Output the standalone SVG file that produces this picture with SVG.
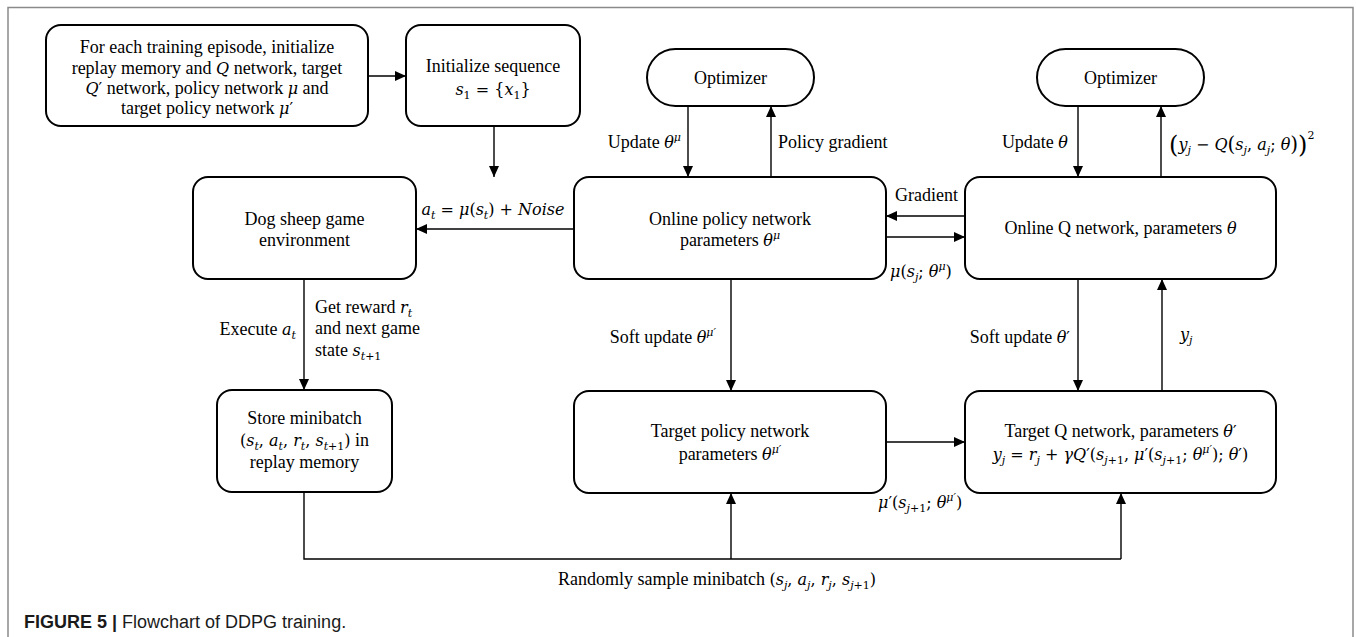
<svg xmlns="http://www.w3.org/2000/svg" width="1356" height="637" viewBox="0 0 1356 637">
  <defs>
    <marker id="arr" markerUnits="userSpaceOnUse" markerWidth="11" markerHeight="10" refX="11" refY="5" orient="auto">
      <path d="M0,0 L11,5 L0,10 z" fill="#000"/>
    </marker>
    <style>
      .box { fill: #fff; stroke: #000; stroke-width: 2; }
      .edge { fill: none; stroke: #000; stroke-width: 1.4; }
      .t { font-family: "Liberation Serif", "Times New Roman", serif; font-size: 18px; fill: #000; }
      .c { text-anchor: middle; }
      .e { text-anchor: end; }
      .m { font-family: "DejaVu Serif", "Liberation Serif", serif; font-size: 16px; }
      .i { font-style: italic; }
      .s { font-size: 11px; }
      .cap { font-family: "Liberation Sans", Arial, sans-serif; font-size: 18px; fill: #1a1a1a; }
    </style>
  </defs>

  <rect width="1356" height="637" fill="#fff"/>
  <!-- outer figure frame -->
  <path d="M8,640 V7.5 H1353 V640" fill="none" stroke="#8a8a8a" stroke-width="1.5"/>

  <!-- connectors -->
  <g id="connectors">
    <path class="edge" d="M368,76 H406" marker-end="url(#arr)"/>
    <path class="edge" d="M494,126 V177" marker-end="url(#arr)"/>
    <path class="edge" d="M574,229 H416" marker-end="url(#arr)"/>
    <path class="edge" d="M304,279 V390" marker-end="url(#arr)"/>
    <path class="edge" d="M688,106 V177" marker-end="url(#arr)"/>
    <path class="edge" d="M771,177 V106" marker-end="url(#arr)"/>
    <path class="edge" d="M1078,106 V177" marker-end="url(#arr)"/>
    <path class="edge" d="M1161,177 V106" marker-end="url(#arr)"/>
    <path class="edge" d="M965,216 H886" marker-end="url(#arr)"/>
    <path class="edge" d="M886,237 H965" marker-end="url(#arr)"/>
    <path class="edge" d="M731,279 V391" marker-end="url(#arr)"/>
    <path class="edge" d="M1078,279 V391" marker-end="url(#arr)"/>
    <path class="edge" d="M1162,391 V279" marker-end="url(#arr)"/>
    <path class="edge" d="M886,442 H965" marker-end="url(#arr)"/>
    <path class="edge" d="M304,492 V559 H1121"/>
    <path class="edge" d="M731,559 V493" marker-end="url(#arr)"/>
    <path class="edge" d="M1121,559 V493" marker-end="url(#arr)"/>
  </g>

  <!-- connector labels -->
  <g id="labels" class="t">
    <text class="e" x="681" y="148">Update <tspan class="m i">θ</tspan><tspan class="m s i" dy="-7">μ</tspan></text>
    <text x="778" y="148">Policy gradient</text>
    <text class="e" x="1068" y="148">Update <tspan class="m i">θ</tspan></text>
    <text x="1169" y="150"><tspan class="m"><tspan font-size="24" dy="3">(</tspan><tspan class="i" dy="-3">y</tspan><tspan class="s i" dy="4">j</tspan><tspan dy="-4"> − </tspan><tspan class="i">Q</tspan><tspan font-size="20" dy="1">(</tspan><tspan class="i" dy="-1">s</tspan><tspan class="s i" dy="4">j</tspan><tspan dy="-4">, </tspan><tspan class="i">a</tspan><tspan class="s i" dy="4">j</tspan><tspan dy="-4">; </tspan><tspan class="i">θ</tspan><tspan font-size="20" dy="1">)</tspan><tspan font-size="24" dy="2">)</tspan><tspan class="s" dy="-14">2</tspan></tspan></text>
    <text x="895" y="201">Gradient</text>
    <text x="890" y="277"><tspan class="m"><tspan class="i">μ</tspan>(<tspan class="i">s</tspan><tspan class="s i" dy="4">j</tspan><tspan dy="-4">; </tspan><tspan class="i">θ</tspan><tspan class="s i" dy="-7">μ</tspan><tspan dy="7">)</tspan></tspan></text>
    <text class="c" x="493" y="215"><tspan class="m"><tspan class="i">a</tspan><tspan class="s i" dy="4">t</tspan><tspan dy="-4"> = </tspan><tspan class="i">μ</tspan>(<tspan class="i">s</tspan><tspan class="s i" dy="4">t</tspan><tspan dy="-4">) + </tspan><tspan class="i">Noise</tspan></tspan></text>
    <text class="e" x="296" y="335">Execute <tspan class="m i">a</tspan><tspan class="m s i" dy="4">t</tspan></text>
    <text x="315" y="313">Get reward <tspan class="m i">r</tspan><tspan class="m s i" dy="4">t</tspan></text>
    <text x="315" y="334">and next game</text>
    <text x="315" y="356">state <tspan class="m"><tspan class="i">s</tspan><tspan class="s i" dy="4">t</tspan><tspan class="s">+1</tspan></tspan></text>
    <text class="e" x="716" y="343">Soft update <tspan class="m"><tspan class="i">θ</tspan><tspan class="s i" dy="-7">μ′</tspan></tspan></text>
    <text class="e" x="1070" y="343">Soft update <tspan class="m"><tspan class="i">θ</tspan>′</tspan></text>
    <text x="1180" y="340"><tspan class="m"><tspan class="i">y</tspan><tspan class="s i" dy="4">j</tspan></tspan></text>
    <text x="878" y="508"><tspan class="m"><tspan class="i">μ</tspan>′(<tspan class="i">s</tspan><tspan class="s i" dy="4">j</tspan><tspan class="s">+1</tspan><tspan dy="-4">; </tspan><tspan class="i">θ</tspan><tspan class="s i" dy="-7">μ′</tspan><tspan dy="7">)</tspan></tspan></text>
    <text class="c" x="717" y="585">Randomly sample minibatch <tspan class="m">(<tspan class="i">s</tspan><tspan class="s i" dy="4">j</tspan><tspan dy="-4">, </tspan><tspan class="i">a</tspan><tspan class="s i" dy="4">j</tspan><tspan dy="-4">, </tspan><tspan class="i">r</tspan><tspan class="s i" dy="4">j</tspan><tspan dy="-4">, </tspan><tspan class="i">s</tspan><tspan class="s i" dy="4">j</tspan><tspan class="s">+1</tspan><tspan dy="-4">)</tspan></tspan></text>
  </g>

  <!-- nodes -->
  <g id="init-episode">
    <rect class="box" x="46" y="25" width="322" height="101" rx="15"/>
    <g class="t c">
      <text x="207" y="53">For each training episode, initialize</text>
      <text x="207" y="74">replay memory and <tspan class="m i">Q</tspan> network, target</text>
      <text x="207" y="94"><tspan class="m"><tspan class="i">Q</tspan>′</tspan> network, policy network <tspan class="m i">μ</tspan> and</text>
      <text x="207" y="114">target policy network <tspan class="m"><tspan class="i">μ</tspan>′</tspan></text>
    </g>
  </g>

  <g id="init-sequence">
    <rect class="box" x="406" y="25" width="174" height="101" rx="15"/>
    <g class="t c">
      <text x="493" y="72">Initialize sequence</text>
      <text x="493" y="95"><tspan class="m"><tspan class="i">s</tspan><tspan class="s" dy="4">1</tspan><tspan dy="-4"> = {</tspan><tspan class="i">x</tspan><tspan class="s" dy="4">1</tspan><tspan dy="-4">}</tspan></tspan></text>
    </g>
  </g>

  <g id="optimizer-policy">
    <rect class="box" x="647" y="49" width="167" height="57" rx="28.5"/>
    <text class="t c" x="730.5" y="84">Optimizer</text>
  </g>

  <g id="optimizer-q">
    <rect class="box" x="1037" y="49" width="167" height="57" rx="28.5"/>
    <text class="t c" x="1120.5" y="84">Optimizer</text>
  </g>

  <g id="environment">
    <rect class="box" x="193" y="177" width="223" height="102" rx="15"/>
    <g class="t c">
      <text x="304.5" y="225">Dog sheep game</text>
      <text x="304.5" y="246">environment</text>
    </g>
  </g>

  <g id="online-policy">
    <rect class="box" x="574" y="177" width="312" height="102" rx="15"/>
    <g class="t c">
      <text x="730" y="225">Online policy network</text>
      <text x="730" y="246">parameters <tspan class="m"><tspan class="i">θ</tspan><tspan class="s i" dy="-7">μ</tspan></tspan></text>
    </g>
  </g>

  <g id="online-q">
    <rect class="box" x="965" y="177" width="311" height="102" rx="15"/>
    <text class="t c" x="1120.5" y="234">Online Q network, parameters <tspan class="m i">θ</tspan></text>
  </g>

  <g id="replay-store">
    <rect class="box" x="217" y="390" width="175" height="102" rx="15"/>
    <g class="t c">
      <text x="304.5" y="424">Store minibatch</text>
      <text x="304.5" y="446"><tspan class="m">(<tspan class="i">s</tspan><tspan class="s i" dy="4">t</tspan><tspan dy="-4">, </tspan><tspan class="i">a</tspan><tspan class="s i" dy="4">t</tspan><tspan dy="-4">, </tspan><tspan class="i">r</tspan><tspan class="s i" dy="4">t</tspan><tspan dy="-4">, </tspan><tspan class="i">s</tspan><tspan class="s i" dy="4">t</tspan><tspan class="s">+1</tspan><tspan dy="-4">)</tspan></tspan> in</text>
      <text x="304.5" y="468">replay memory</text>
    </g>
  </g>

  <g id="target-policy">
    <rect class="box" x="574" y="391" width="312" height="102" rx="15"/>
    <g class="t c">
      <text x="730" y="437">Target policy network</text>
      <text x="730" y="460">parameters <tspan class="m"><tspan class="i">θ</tspan><tspan class="s i" dy="-7">μ′</tspan></tspan></text>
    </g>
  </g>

  <g id="target-q">
    <rect class="box" x="965" y="391" width="311" height="102" rx="15"/>
    <g class="t c">
      <text x="1120.5" y="437">Target Q network, parameters <tspan class="m"><tspan class="i">θ</tspan>′</tspan></text>
      <text x="1120.5" y="460"><tspan class="m"><tspan class="i">y</tspan><tspan class="s i" dy="4">j</tspan><tspan dy="-4"> = </tspan><tspan class="i">r</tspan><tspan class="s i" dy="4">j</tspan><tspan dy="-4"> + </tspan><tspan class="i">γQ</tspan>′(<tspan class="i">s</tspan><tspan class="s i" dy="4">j</tspan><tspan class="s">+1</tspan><tspan dy="-4">, </tspan><tspan class="i">μ</tspan>′(<tspan class="i">s</tspan><tspan class="s i" dy="4">j</tspan><tspan class="s">+1</tspan><tspan dy="-4">; </tspan><tspan class="i">θ</tspan><tspan class="s i" dy="-7">μ′</tspan><tspan dy="7">); </tspan><tspan class="i">θ</tspan>′)</tspan></text>
    </g>
  </g>

  <!-- caption -->
  <text class="cap" x="24" y="628"><tspan font-weight="bold">FIGURE 5 |</tspan> Flowchart of DDPG training.</text>
</svg>
